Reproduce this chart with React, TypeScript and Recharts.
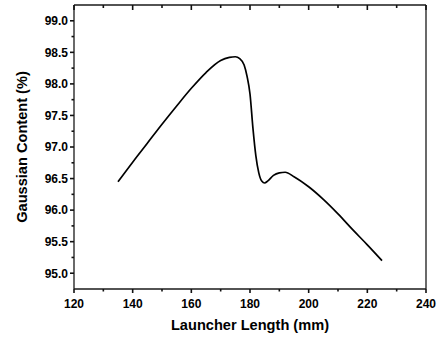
import { LineChart, Line, XAxis, YAxis } from 'recharts'

// values
const launcherLength = [
  135, 140, 145, 150, 155, 160, 165, 170, 173, 175, 176.5, 178, 179, 180, 181, 182, 183, 184,
  185, 186, 188, 190, 192, 195, 200, 205, 210, 215, 220, 225,
]
const gaussianContent = [
  96.45, 96.76, 97.06, 97.36, 97.65, 97.93, 98.18, 98.37, 98.42, 98.43, 98.4, 98.3, 98.12, 97.84,
  97.3, 96.86, 96.59, 96.46, 96.43, 96.46, 96.55, 96.59, 96.6, 96.53, 96.37, 96.17, 95.94, 95.69,
  95.45, 95.2,
]
const xMajorTicks = [120, 140, 160, 180, 200, 220, 240]
const xMinorTicks = [130, 150, 170, 190, 210, 230]
const yMajorTicks = [95.0, 95.5, 96.0, 96.5, 97.0, 97.5, 98.0, 98.5, 99.0]
const yMinorTicks = [95.25, 95.75, 96.25, 96.75, 97.25, 97.75, 98.25, 98.75]

const data = launcherLength.map((len, i) => ({ len, pct: gaussianContent[i] }))
const xTicks = [...xMajorTicks, ...xMinorTicks].sort((a, b) => a - b)
const yTicks = [...yMajorTicks, ...yMinorTicks].sort((a, b) => a - b)

const FONT = 'Liberation Sans, Arial, Helvetica, sans-serif'
const AXIS = '#1a1a1a'
const TICK = '#111'
const axisLineStyle = { stroke: AXIS, strokeWidth: 1.3 }

const isMajor = (list: number[], v: number) => list.some((m) => Math.abs(m - v) < 1e-6)

// tickSize is 0 on these axes, so x/y arrive on the frame; marks drawn here
const makeTick = (side: 'bottom' | 'top' | 'left') => (props: any) => {
  const { x, y, payload } = props
  const v = Number(payload.value)
  const major = side === 'left' ? isMajor(yMajorTicks, v) : isMajor(xMajorTicks, v)
  const len = major ? (side === 'top' ? 5 : 4) : side === 'top' ? 3 : 2.5
  const pts = side === 'left' ? [x, y, x - len, y] : [x, y, x, y + len]
  return (
    <g>
      <line x1={pts[0]} y1={pts[1]} x2={pts[2]} y2={pts[3]} stroke={TICK} strokeWidth={1.6} />
      {major && side === 'bottom' && (
        <text x={x} y={y + 19} textAnchor="middle" fontFamily={FONT} fontWeight="bold" fontSize={12} fill="#000">
          {v}
        </text>
      )}
      {major && side === 'left' && (
        <text x={x - 6} y={y + 4.3} textAnchor="end" fontFamily={FONT} fontWeight="bold" fontSize={12} fill="#000">
          {v.toFixed(1)}
        </text>
      )}
    </g>
  )
}

export default function App() {
  return (
    <div style={{ position: 'absolute', left: 0, top: 0, width: 437, height: 337, background: '#fff' }}>
      <LineChart width={437} height={337} data={data} margin={{ top: 5, right: 11, left: 0, bottom: 0 }}>
        <XAxis
          xAxisId="bottom"
          dataKey="len"
          type="number"
          domain={[120, 240]}
          ticks={xTicks}
          interval={0}
          height={48}
          tickSize={0}
          tickMargin={0}
          tickLine={false}
          tick={makeTick('bottom')}
          axisLine={axisLineStyle}
          label={{
            content: () => (
              <text x={250} y={330} textAnchor="middle" fontFamily={FONT} fontWeight="bold" fontSize={14.6} fill="#000">
                Launcher Length (mm)
              </text>
            ),
          }}
        />
        <XAxis
          xAxisId="top"
          orientation="top"
          dataKey="len"
          type="number"
          domain={[120, 240]}
          ticks={xTicks}
          interval={0}
          height={0.01}
          tickSize={0}
          tickMargin={0}
          tickLine={false}
          tick={makeTick('top')}
          axisLine={axisLineStyle}
        />
        <YAxis
          yAxisId="left"
          type="number"
          domain={[94.75, 99.25]}
          ticks={yTicks}
          interval={0}
          width={74}
          tickSize={0}
          tickMargin={0}
          tickLine={false}
          tick={makeTick('left')}
          axisLine={axisLineStyle}
          label={{
            content: () => (
              <text
                x={27}
                y={147}
                transform="rotate(-90, 27, 147)"
                textAnchor="middle"
                fontFamily={FONT}
                fontWeight="bold"
                fontSize={14.6}
                fill="#000"
              >
                Gaussian Content (%)
              </text>
            ),
          }}
        />
        <YAxis
          yAxisId="right"
          orientation="right"
          mirror
          type="number"
          domain={[94.75, 99.25]}
          ticks={yTicks}
          interval={0}
          width={0.01}
          tickSize={3.5}
          tickLine={{ stroke: TICK, strokeWidth: 1.6 }}
          tick={false}
          axisLine={axisLineStyle}
        />
        <Line
          xAxisId="bottom"
          yAxisId="left"
          type="monotone"
          dataKey="pct"
          stroke="#000"
          strokeWidth={1.7}
          dot={false}
          isAnimationActive={false}
        />
      </LineChart>
    </div>
  )
}
